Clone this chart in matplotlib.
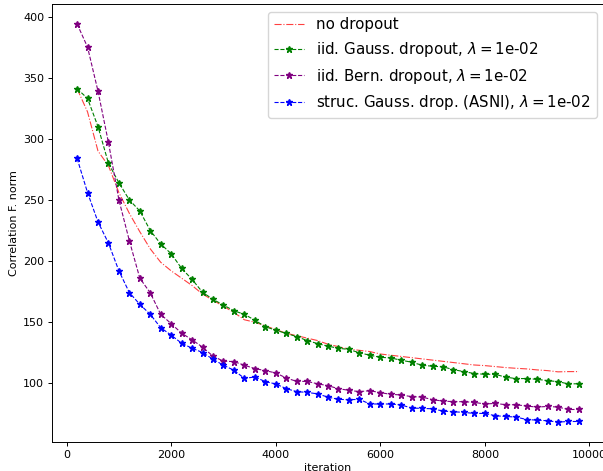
import numpy as np
import matplotlib
matplotlib.use("Agg")
import matplotlib.pyplot as plt

iterations = np.arange(200, 10000, 200)

no_dropout = [341, 322, 290, 278, 256, 239, 224, 210, 199, 192,
              186, 180, 173, 168, 163, 158, 152, 150, 147, 144,
              141, 139, 137, 135, 132, 130, 128, 127, 126, 124,
              123, 122, 121, 120, 119, 118, 117, 116, 115, 114.5,
              113.7, 112.9, 112.3, 111.8, 111, 110.4, 109.4, 109.6, 109.6]

gauss = [341, 333, 310, 280, 264, 250, 241, 225, 214, 206,
         194, 185, 174.5, 168.7, 164, 159.4, 156.4, 151.7, 146.3, 143.5,
         140.8, 138.3, 135, 132.5, 130.4, 128.7, 127.7, 125, 123, 121.3,
         120.8, 118.9, 117.3, 114.8, 114, 113.5, 111.2, 109.6, 108, 107.4,
         107.4, 105, 103.9, 103.9, 103.3, 102.2, 101.4, 99.5, 99.7]

bern = [394, 375, 339, 297, 250, 216.6, 186, 174, 156.4, 148.8,
        141, 135.6, 129.6, 122.2, 118.1, 117.8, 114.8, 112.1, 110.4, 108.5,
        104.4, 101.6, 101.6, 99.6, 98.1, 95.6, 94.3, 93.2, 94, 92.4,
        91, 90.5, 89.1, 88.8, 86.6, 85.5, 85, 85, 84.4, 83.1,
        83.6, 82.5, 82.5, 81.4, 80.6, 81.1, 80.6, 78.6, 78.6]

asni = [284, 256, 232, 214.7, 192, 174.2, 164.6, 156.4, 145.5, 139.4,
        132.8, 128.7, 125.2, 119.7, 114.8, 110.7, 104.1, 105.2, 101.4, 99.5,
        95.7, 93.2, 92.6, 91.4, 88.7, 86.9, 86.6, 86.9, 83.1, 83.1,
        83.1, 82.3, 79.8, 79.5, 79.2, 77.3, 76.8, 76.2, 75.4, 75.4,
        73.5, 72.9, 72.4, 70.4, 69.9, 69.4, 68.3, 68.8, 68.8]

fig = plt.figure(figsize=(6.03, 4.71), dpi=100)
ax = fig.add_axes([52 / 603, 29 / 471, 552 / 603, 438 / 471])

ax.plot(iterations, no_dropout, "-.", color="red", lw=0.8, alpha=0.75,
        label="no dropout")
ax.plot(iterations, gauss, "*--", color="green", lw=0.8, ms=5,
        label=r"iid. Gauss. dropout, $\lambda = $1e-02")
ax.plot(iterations, bern, "*--", color="purple", lw=0.8, ms=5,
        label=r"iid. Bern. dropout, $\lambda = $1e-02")
ax.plot(iterations, asni, "*--", color="blue", lw=0.8, ms=5,
        label=r"struc. Gauss. drop. (ASNI), $\lambda = $1e-02")

for s in ax.spines.values():
    s.set_linewidth(0.7)
ax.tick_params(labelsize=8, length=2.8, width=0.7, pad=2.8)
ax.set_xlabel("iteration", fontsize=8, labelpad=2.5)
ax.set_ylabel("Correlation F. norm", fontsize=8, labelpad=3)
ax.legend(loc="upper right", fontsize=10.8)

fig.savefig("out.png", dpi=100)
